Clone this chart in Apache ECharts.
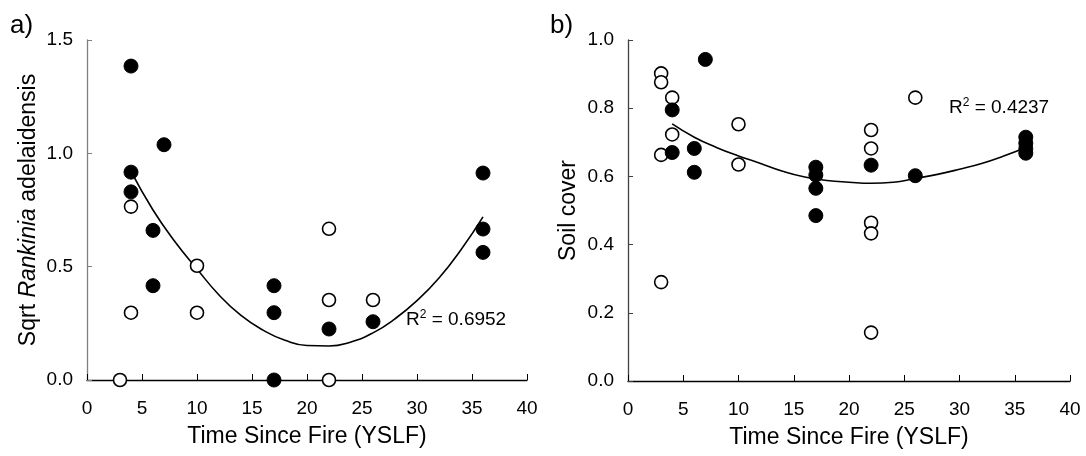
<!DOCTYPE html>
<html>
<head>
<meta charset="utf-8">
<script src="https://cdn.jsdelivr.net/npm/echarts@6/dist/echarts.min.js"></script>
<style>
html,body{margin:0;padding:0;background:#fff;}
#chart{width:1086px;height:456px;}
</style>
</head>
<body>
<div id="chart"></div>
<script>
// ---- data ----
var xTicks = [0, 5, 10, 15, 20, 25, 30, 35, 40];
var leftYTicks = [0.0, 0.5, 1.0, 1.5];
var rightYTicks = [0.0, 0.2, 0.4, 0.6, 0.8, 1.0];

// panel a) Sqrt Rankinia adelaidensis vs YSLF
var leftFilled = [[4,1.385],[4,0.917],[4,0.83],[7,1.038],[6,0.66],[6,0.416],[17,0.416],[17,0.297],[17,0],[22,0.225],[26,0.257],[36,0.913],[36,0.666],[36,0.563]];
var leftOpen = [[3,0],[4,0.765],[4,0.297],[10,0.504],[10,0.297],[22,0.667],[22,0.353],[22,0],[26,0.353]];
var leftTrend = [[4,0.92],[6,0.75],[8,0.61],[10,0.49],[12,0.375],[14,0.285],[16,0.22],[18,0.175],[20,0.152],[22,0.15],[24,0.168],[26,0.208],[28,0.27],[30,0.35],[32,0.45],[34,0.575],[36,0.72]];
var leftR2 = '0.6952';

// panel b) Soil cover vs YSLF
var rightFilled = [[4,0.795],[4,0.670],[7,0.943],[6,0.682],[6,0.612],[17,0.627],[17,0.604],[17,0.565],[17,0.485],[22,0.633],[26,0.602],[36,0.715],[36,0.697],[36,0.681],[36,0.668]];
var rightOpen = [[3,0.902],[3,0.876],[3,0.663],[3,0.290],[4,0.831],[4,0.723],[10,0.753],[10,0.635],[22,0.736],[22,0.682],[22,0.464],[22,0.433],[22,0.142],[26,0.831]];
var rightTrend = [[4,0.754],[6,0.715],[8,0.685],[10,0.66],[12,0.638],[14,0.615],[16,0.598],[18,0.588],[20,0.583],[22,0.58],[24,0.583],[26,0.594],[28,0.606],[30,0.621],[32,0.638],[34,0.66],[36,0.685]];
var rightR2 = '0.4237';

var FONT = 'Arial, "Liberation Sans", sans-serif';

function xAxisCfg(gi){
  return {
    gridIndex: gi, type: 'value', min: xTicks[0], max: xTicks[xTicks.length-1], interval: xTicks[1]-xTicks[0],
    name: 'Time Since Fire (YSLF)', nameLocation: 'middle', nameGap: 45,
    nameTextStyle: {fontFamily: FONT, fontSize: 23, color: '#000'},
    axisLine: {show: true, onZero: false, lineStyle: {color: '#000', width: 1.3}},
    axisTick: {show: true, inside: true, length: 6, lineStyle: {color: '#000', width: 1}},
    axisLabel: {fontFamily: FONT, fontSize: 19, color: '#000', margin: 19},
    splitLine: {show: false}
  };
}
function yAxisCfg(gi, ticks, name, lineColor, gap){
  return {
    gridIndex: gi, type: 'value', min: ticks[0], max: ticks[ticks.length-1], interval: ticks[1]-ticks[0],
    name: name, nameLocation: 'middle', nameGap: gap, nameRotate: 90,
    nameTextStyle: {fontFamily: FONT, fontSize: 23, color: '#000',
      rich: {i: {fontFamily: FONT, fontSize: 23, fontStyle: 'italic', color: '#000'}}},
    axisLine: {show: true, onZero: false, lineStyle: {color: lineColor, width: 1.3}},
    axisTick: {show: true, inside: true, length: 5, lineStyle: {color: lineColor, width: 1}},
    axisLabel: {fontFamily: FONT, fontSize: 19, color: '#000', margin: 14,
      formatter: function(v){ return v.toFixed(1); }},
    splitLine: {show: false}
  };
}
function filledSeries(xi, data){
  return {type: 'scatter', xAxisIndex: xi, yAxisIndex: xi, data: data, symbol: 'circle', symbolSize: 14,
    itemStyle: {color: '#000', borderColor: '#000', borderWidth: 1, opacity: 1}, z: 4, silent: true};
}
function openSeries(xi, data){
  return {type: 'scatter', xAxisIndex: xi, yAxisIndex: xi, data: data, symbol: 'circle', symbolSize: 13,
    itemStyle: {color: '#fff', borderColor: '#000', borderWidth: 1.6, opacity: 1}, z: 3, silent: true};
}
function trendSeries(xi, data){
  return {type: 'line', xAxisIndex: xi, yAxisIndex: xi, data: data, symbol: 'none', smooth: true,
    lineStyle: {color: '#000', width: 1.6}, z: 2, silent: true};
}
function r2Text(left, top, val){
  return {type: 'text', left: left, top: top, z: 10,
    style: {text: '{r|R}{s|2}{r| = ' + val + '}', fill: '#000',
      rich: {r: {fontFamily: FONT, fontSize: 19, lineHeight: 22, color: '#000'},
             s: {fontFamily: FONT, fontSize: 12, lineHeight: 22, verticalAlign: 'top', color: '#000', padding: [0,0,8,0]}}}};
}

var chart = echarts.init(document.getElementById('chart'), null, {renderer: 'canvas'});
chart.setOption({
  backgroundColor: '#fff',
  animation: false,
  grid: [
    {left: 87, top: 40, width: 440, height: 340},
    {left: 628, top: 40, width: 442, height: 341}
  ],
  xAxis: [xAxisCfg(0), xAxisCfg(1)],
  yAxis: [
    yAxisCfg(0, leftYTicks, 'Sqrt {i|Rankinia} adelaidensis', '#808080', 47),
    yAxisCfg(1, rightYTicks, 'Soil cover', '#404040', 48)
  ],
  series: [
    trendSeries(0, leftTrend), openSeries(0, leftOpen), filledSeries(0, leftFilled),
    trendSeries(1, rightTrend), openSeries(1, rightOpen), filledSeries(1, rightFilled)
  ],
  graphic: [
    {type: 'text', left: 10, top: 13, style: {text: 'a)', fontFamily: FONT, fontSize: 26, fill: '#000'}},
    {type: 'text', left: 550, top: 13, style: {text: 'b)', fontFamily: FONT, fontSize: 26, fill: '#000'}},
    r2Text(406, 309, leftR2),
    r2Text(949, 97, rightR2)
  ]
});
</script>
</body>
</html>
